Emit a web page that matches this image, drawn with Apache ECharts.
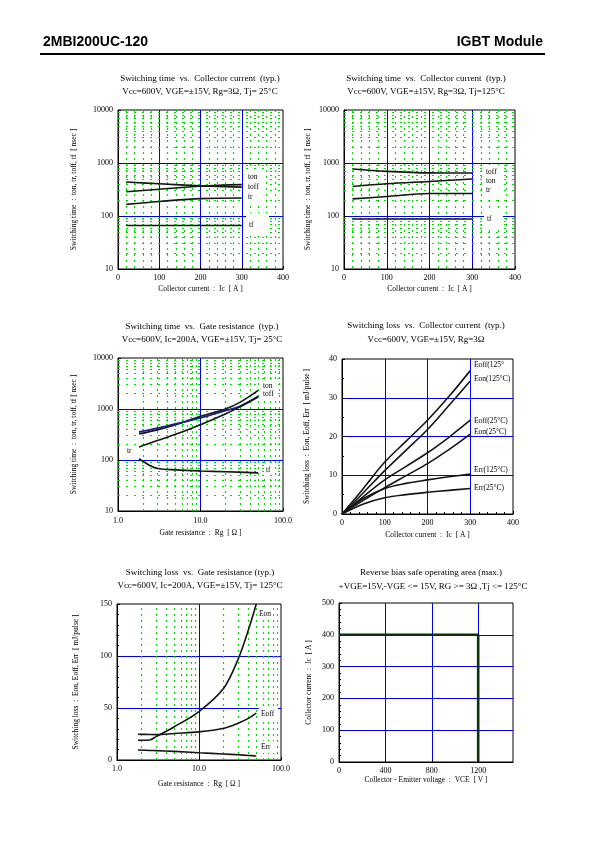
<!DOCTYPE html>
<html><head><meta charset="utf-8">
<script src="https://cdn.jsdelivr.net/npm/echarts@6/dist/echarts.min.js"></script>
<style>html,body{margin:0;padding:0;background:#fff}#c{width:595px;height:842px}</style>
</head><body><div id="c"></div>
<script>
// ---------- DATA ----------
// Chart 1: Switching time vs Ic, Tj=25C
const ic1 = [20, 100, 200, 300];
const ton25 = [287, 320, 365, 390];
const toff25 = [437, 405, 372, 351];
const tr25 = [166, 188, 213, 218];
const tf25 = [66, 66, 66, 66];
// Chart 2: Switching time vs Ic, Tj=125C
const toff125 = [770, 695, 650, 646];
const ton125 = [360, 406, 449, 500];
const tr125 = [210, 233, 265, 265];
const tf125 = [88, 88, 88, 88];
// Chart 3: Switching time vs Rg
const rg3 = [1.8, 3, 5, 10, 20, 30, 50];
const tonRg = [324, 390, 490, 718, 1000, 1350, 2320];
const toffRg = [354, 420, 510, 667, 927, 1130, 1770];
const trRg = [180, 240, 320, 493, 800, 1100, 1720];
const rgTf = [1.8, 2, 2.5, 3, 5, 10, 20, 50];
const tfRg = [106, 95, 76, 68, 64, 61, 59, 56];
// Chart 4: Switching loss vs Ic
const ic4 = [0, 50, 100, 150, 200, 250, 300];
const eoff125 = [0, 6.6, 13.4, 18.8, 24.2, 30.3, 37.0];
const eon125 = [0, 5.5, 11.2, 16.5, 21.8, 28.0, 34.3];
const eoff25 = [0, 4.5, 8.8, 12.3, 15.8, 19.8, 24.2];
const eon25 = [0, 3.5, 6.8, 9.9, 13.0, 16.6, 20.6];
const err125 = [0, 4.0, 6.6, 7.9, 8.8, 9.6, 10.3];
const err25 = [0, 2.6, 4.2, 5.0, 5.6, 6.1, 6.6];
// Chart 5: Switching loss vs Rg
const rg5 = [1.8, 2.5, 3, 5, 10, 20, 30, 40, 50];
const eonRg = [19, 19.3, 22.5, 32, 46.6, 69, 97, 125, 150];
const eoffRg = [24.8, 24.5, 24.4, 25.5, 27, 30.5, 35.4, 40, 45];
const errRg = [9.6, 9.2, 9.0, 8.3, 7.0, 5.8, 5.0, 4.4, 3.9];
// Chart 6: RBSOA
const vce = [0, 1200, 1200];
const icRb = [400, 400, 0];
// tick label texts
const logTimeTicks = ['10', '100', '1000', '10000'];
const rgTicks = ['1.0', '10.0', '100.0'];

// ---------- HELPERS ----------
const SERIF = '"Liberation Serif", "DejaVu Serif", serif';
const GREEN = '#00e000';
const BLUE = '#0000ee';
const CURVE = '#151515';
const zip = (a, b) => a.map((v, i) => [v, b[i]]);
const logMinors = (lo, hi) => { const r = []; for (let d = lo; d < hi; d *= 10) for (let k = 2; k <= 9; k++) r.push(k * d); return r; };

const grids = [
  {left: 118, top: 110, width: 165, height: 159},
  {left: 344, top: 110, width: 171, height: 159},
  {left: 118, top: 358, width: 165, height: 153},
  {left: 342, top: 359, width: 171, height: 155},
  {left: 117, top: 604, width: 164, height: 156},
  {left: 339, top: 603, width: 174, height: 159}
].map(g => Object.assign({show: true, borderColor: '#000', borderWidth: 1, backgroundColor: 'transparent', containLabel: false}, g));

function axisBase(idx, extra) {
  return Object.assign({
    gridIndex: idx,
    axisLine: {show: true, lineStyle: {color: '#000', width: 1}},
    axisTick: {show: true, inside: true, length: 3, lineStyle: {color: '#000'}},
    axisLabel: {color: '#000', fontFamily: SERIF, fontSize: 8, margin: 5},
    splitLine: {show: true, showMinLine: false, showMaxLine: false, lineStyle: {color: BLUE, width: 1}},
    nameTextStyle: {color: '#000', fontFamily: SERIF, fontSize: 7.5},
    nameLocation: 'middle'
  }, extra);
}
const xAxes = [
  axisBase(0, {type: 'value', min: 0, max: 400, interval: 100, name: 'Collector current  :  Ic  [ A ]', nameGap: 16,
    minorSplitLine: {show: true, lineStyle: {color: GREEN, type: [2, 4], width: 1.2}}, minorTick: {show: false, splitNumber: 5}}),
  axisBase(1, {type: 'value', min: 0, max: 400, interval: 100, name: 'Collector current  :  Ic  [ A ]', nameGap: 16,
    minorSplitLine: {show: true, lineStyle: {color: GREEN, type: [2, 4], width: 1.2}}, minorTick: {show: false, splitNumber: 5}}),
  axisBase(2, {type: 'log', logBase: 10, min: 1, max: 100, name: 'Gate resistance  :  Rg  [ Ω ]', nameGap: 18,
    axisLabel: {color: '#000', fontFamily: SERIF, fontSize: 8, margin: 6, formatter: v => rgTicks[Math.round(Math.log10(v))]}}),
  axisBase(3, {type: 'value', min: 0, max: 400, interval: 100, name: 'Collector current  :  Ic  [ A ]', nameGap: 17,
    minorTick: {show: true, splitNumber: 5, length: 2, lineStyle: {color: '#000'}}}),
  axisBase(4, {type: 'log', logBase: 10, min: 1, max: 100, name: 'Gate resistance  :  Rg  [ Ω ]', nameGap: 20,
    axisLabel: {color: '#000', fontFamily: SERIF, fontSize: 8, margin: 5, formatter: v => rgTicks[Math.round(Math.log10(v))]}}),
  axisBase(5, {type: 'value', min: 0, max: 1500, interval: 400, name: 'Collector - Emitter voltage  :  VCE  [ V ]', nameGap: 14,
    axisLabel: {color: '#000', fontFamily: SERIF, fontSize: 8, margin: 5, showMaxLabel: false, formatter: v => String(v)}})
];
const timeName = 'Switching time  :  ton, tr, toff, tf  [ nsec ]';
const lossName = 'Switching loss  :  Eon, Eoff, Err  [ mJ/pulse ]';
const logTimeLabel = {color: '#000', fontFamily: SERIF, fontSize: 8, margin: 5, formatter: v => logTimeTicks[Math.round(Math.log10(v)) - 1]};
const yAxes = [
  axisBase(0, {type: 'log', logBase: 10, min: 10, max: 10000, name: timeName, nameGap: 40, axisLabel: logTimeLabel}),
  axisBase(1, {type: 'log', logBase: 10, min: 10, max: 10000, name: timeName, nameGap: 32, axisLabel: logTimeLabel}),
  axisBase(2, {type: 'log', logBase: 10, min: 10, max: 10000, name: 'Switching time  :  ton, tr, toff, tf [ nsec ]', nameGap: 40, axisLabel: logTimeLabel}),
  axisBase(3, {type: 'value', min: 0, max: 40, interval: 10, name: lossName, nameGap: 31,
    minorTick: {show: true, splitNumber: 2, length: 2, lineStyle: {color: '#000'}}}),
  axisBase(4, {type: 'value', min: 0, max: 150, interval: 50, name: lossName, nameGap: 37,
    minorTick: {show: true, splitNumber: 5, length: 2, lineStyle: {color: '#000'}}}),
  axisBase(5, {type: 'value', min: 0, max: 500, interval: 100, name: 'Collector current  :  Ic  [ A ]', nameGap: 26,
    minorTick: {show: true, splitNumber: 5, length: 2, lineStyle: {color: '#000'}}})
];

function curve(gi, xs, ys, opts) {
  return Object.assign({
    type: 'line', xAxisIndex: gi, yAxisIndex: gi, data: zip(xs, ys), showSymbol: false, symbol: 'none',
    smooth: 0.35, lineStyle: {color: CURVE, width: 1.6}, silent: true, z: 5, animation: false
  }, opts || {});
}
function minorGrid(gi, key, vals, dash) {
  return {
    type: 'line', xAxisIndex: gi, yAxisIndex: gi, data: [], silent: true, animation: false, z: 1,
    markLine: {silent: true, symbol: ['none', 'none'], label: {show: false}, animation: false,
      lineStyle: {color: GREEN, type: dash, width: 1.2}, emphasis: {disabled: true},
      data: vals.map(v => ({[key]: v}))}
  };
}
const rgMinors = logMinors(1, 100);
const series = [
  minorGrid(0, 'yAxis', logMinors(10, 10000), [2, 6]),
  minorGrid(1, 'yAxis', logMinors(10, 10000), [2, 6]),
  minorGrid(2, 'yAxis', logMinors(10, 10000), [2, 6]),
  minorGrid(2, 'xAxis', rgMinors, [2, 4]),
  minorGrid(4, 'xAxis', rgMinors, [2, 4]),
  curve(0, ic1, toff25), curve(0, ic1, ton25), curve(0, ic1, tr25), curve(0, ic1, tf25),
  curve(1, ic1, toff125), curve(1, ic1, ton125), curve(1, ic1, tr125), curve(1, ic1, tf125),
  curve(2, rg3, tonRg), curve(2, rg3, toffRg, {lineStyle: {color: '#1c1c8a', width: 1.8}}), curve(2, rg3, trRg), curve(2, rgTf, tfRg),
  curve(3, ic4, eoff125), curve(3, ic4, eon125), curve(3, ic4, eoff25), curve(3, ic4, eon25), curve(3, ic4, err125), curve(3, ic4, err25),
  curve(4, rg5, eonRg, {smooth: 0.3}), curve(4, rg5, eoffRg), curve(4, rg5, errRg),
  curve(5, vce, icRb, {smooth: false, lineStyle: {color: '#0b330b', width: 2.6}})
];

// ---------- TEXT ----------
const g = [];
function txt(x, y, s, size, opt) {
  opt = opt || {};
  g.push({type: 'text', x: x, y: y, z: 100, silent: true, style: {
    text: s, font: (opt.bold ? 'bold ' : '') + size + 'px ' + (opt.family || SERIF), fill: '#000',
    align: opt.align || 'center', verticalAlign: 'middle', textAlign: opt.align || 'center', textVerticalAlign: 'middle'}});
}
function box(x, y, w, h) {
  g.push({type: 'rect', z: 90, silent: true, shape: {x: x, y: y, width: w, height: h}, style: {fill: '#fff'}});
}
// header
txt(43, 42, '2MBI200UC-120', 14, {bold: true, align: 'left', family: '"Liberation Sans", Arial, sans-serif'});
txt(543, 42, 'IGBT Module', 14, {bold: true, align: 'right', family: '"Liberation Sans", Arial, sans-serif'});
g.push({type: 'line', z: 100, silent: true, shape: {x1: 40, y1: 54, x2: 545, y2: 54}, style: {stroke: '#000', lineWidth: 2.2}});
// titles
txt(200, 79, 'Switching time  vs.  Collector current  (typ.)', 9);
txt(200, 92, 'Vcc=600V, VGE=±15V, Rg=3Ω, Tj= 25°C', 9);
txt(426, 79, 'Switching time  vs.  Collector current  (typ.)', 9);
txt(426, 92, 'Vcc=600V, VGE=±15V, Rg=3Ω, Tj=125°C', 9);
txt(202, 327, 'Switching time  vs.  Gate resistance  (typ.)', 9);
txt(202, 340, 'Vcc=600V, Ic=200A, VGE=±15V, Tj= 25°C', 9);
txt(426, 326, 'Switching loss  vs.  Collector current  (typ.)', 9);
txt(426, 340, 'Vcc=600V, VGE=±15V, Rg=3Ω', 9);
txt(200, 573, 'Switching loss  vs.  Gate resistance (typ.)', 9);
txt(200, 586, 'Vcc=600V, Ic=200A, VGE=±15V, Tj= 125°C', 9);
txt(431, 573, 'Reverse bias safe operating area (max.)', 9);
txt(433, 587, '+VGE=15V,-VGE <= 15V, RG >= 3Ω ,Tj <= 125°C', 9);
// curve labels chart 1
box(246, 170, 20, 34); box(246, 213, 23, 20);
txt(248, 177, 'ton', 7.5, {align: 'left'}); txt(248, 187, 'toff', 7.5, {align: 'left'});
txt(248, 197, 'tr', 7.5, {align: 'left'}); txt(249, 225, 'tf', 7.5, {align: 'left'});
// chart 2
box(484, 165, 20, 32); box(484, 212, 19, 18);
txt(486, 172, 'toff', 7.5, {align: 'left'}); txt(486, 181, 'ton', 7.5, {align: 'left'});
txt(486, 190, 'tr', 7.5, {align: 'left'}); txt(487, 219, 'tf', 7.5, {align: 'left'});
// chart 3
box(262, 381, 16, 18); box(125, 446, 10, 10); box(264, 465, 10, 10);
txt(263, 386, 'ton', 7.5, {align: 'left'}); txt(263, 394, 'toff', 7.5, {align: 'left'});
txt(127, 451, 'tr', 7.5, {align: 'left'}); txt(266, 470, 'tf', 7.5, {align: 'left'});
// chart 4
txt(474, 365, 'Eoff(125°', 7.5, {align: 'left'}); txt(474, 379, 'Eon(125°C)', 7.5, {align: 'left'});
txt(474, 421, 'Eoff(25°C)', 7.5, {align: 'left'}); txt(474, 432, 'Eon(25°C)', 7.5, {align: 'left'});
txt(474, 470, 'Err(125°C)', 7.5, {align: 'left'}); txt(474, 488, 'Err(25°C)', 7.5, {align: 'left'});
// chart 5
box(257, 608, 16, 12); box(259, 708, 19, 12); box(259, 741, 15, 12);
txt(259, 614, 'Eon', 7.5, {align: 'left'}); txt(261, 714, 'Eoff', 7.5, {align: 'left'}); txt(261, 747, 'Err', 7.5, {align: 'left'});

const chart = echarts.init(document.getElementById('c'), null, {renderer: 'canvas'});
chart.setOption({
  backgroundColor: '#fff', animation: false,
  grid: grids, xAxis: xAxes, yAxis: yAxes, series: series, graphic: {elements: g}
});
</script></body></html>
